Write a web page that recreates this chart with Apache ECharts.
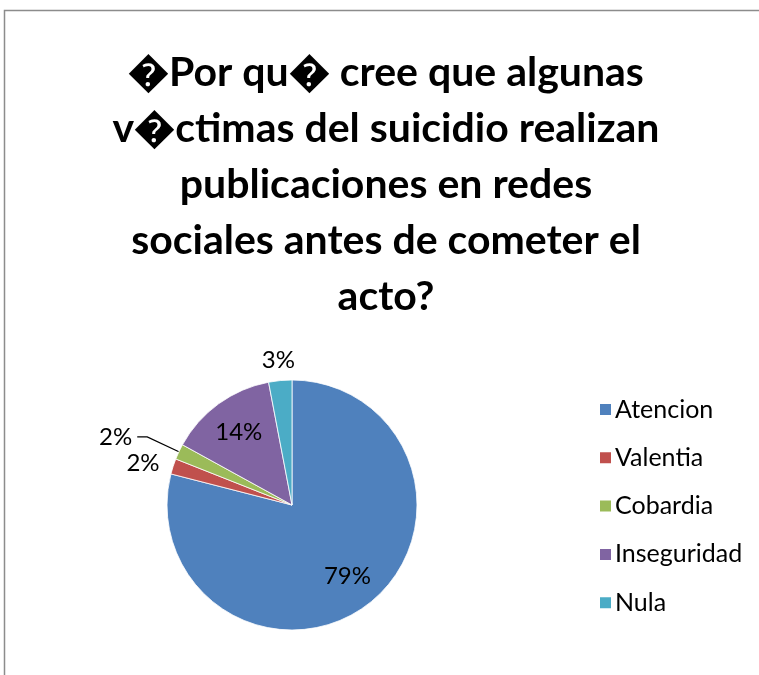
<!DOCTYPE html>
<html><head><meta charset="utf-8">
<script src="https://cdn.jsdelivr.net/npm/echarts@6/dist/echarts.min.js"></script>
<style>html,body{margin:0;padding:0;background:#fff}#c{width:759px;height:675px}</style>
</head><body><div id="c"></div>
<script>
var titleText = "\uFFFDPor qu\uFFFD cree que algunas\nv\uFFFDctimas del suicidio realizan\npublicaciones en redes\nsociales antes de cometer el\nacto?";
var categories = ["Atencion", "Valentia", "Cobardia", "Inseguridad", "Nula"];
var values = [79, 2, 2, 14, 3];
var colors = ["#4F81BD", "#C0504D", "#9BBB59", "#8064A2", "#4BACC6"];
// which ring carries each slice's label: 'in' = inside the pie, 'out' = outside with ECharts layout, 'ring' = just above the rim
var labelMode = ["in", "out", "out", "in", "ring"];
var showLine = [false, false, true, false, false];
var lineLen = [10, 9, 35, 10, 12];
var lineLen2 = [0, 0, 10, 0, 0];

var chart = echarts.init(document.getElementById('c'));
var baseData = categories.map(function (c, i) {
  return { name: c, value: values[i], itemStyle: { color: colors[i] } };
});
function labelData(mode) {
  return categories.map(function (c, i) {
    var m = labelMode[i];
    var show = (mode === 'main') ? (m === 'in' || m === 'out') : (m === 'ring');
    return {
      name: c, value: values[i],
      label: { show: show, position: (m === 'out') ? 'outside' : 'inside' },
      labelLine: { show: show && showLine[i], length: lineLen[i], length2: lineLen2[i] }
    };
  });
}
var labelStyle = {
  formatter: function (p) { return p.value + '%'; },
  fontFamily: 'Lato', fontSize: 24, color: '#000'
};
chart.setOption({
  animation: false,
  title: {
    text: titleText, left: 381, top: 40, textAlign: 'center',
    textStyle: { fontFamily: 'Lato', fontWeight: 'bold', fontSize: 41, lineHeight: 56, color: '#000' }
  },
  legend: {
    orient: 'vertical', left: 593, top: 392, itemWidth: 13, itemHeight: 13, itemGap: 23.3,
    icon: 'rect', data: categories,
    textStyle: { fontFamily: 'Lato', fontSize: 25, color: '#000', padding: [0, 0, 0, -2] }
  },
  graphic: [{ type: 'rect', shape: { x: 4.5, y: 10.5, width: 800, height: 700 }, style: { fill: 'none', stroke: '#8c8c8c', lineWidth: 1.5 }, silent: true }],
  series: [{
    type: 'pie', center: [292, 505], radius: 125, startAngle: 90, clockwise: true,
    data: baseData, silent: true,
    itemStyle: { borderColor: '#fff', borderWidth: 0.8 },
    label: { show: false }, labelLine: { show: false }
  }, {
    type: 'pie', center: [292, 505], radius: [50, 125], startAngle: 90, clockwise: true,
    data: labelData('main'), silent: true, legendHoverLink: false,
    itemStyle: { color: 'rgba(0,0,0,0)', borderWidth: 0 },
    label: labelStyle,
    labelLine: { lineStyle: { color: '#000', width: 1.2 } }
  }, {
    type: 'pie', center: [292, 505], radius: [125, 160], startAngle: 90, clockwise: true,
    data: labelData('ring'), silent: true, legendHoverLink: false,
    itemStyle: { color: 'rgba(0,0,0,0)', borderWidth: 0 },
    label: labelStyle,
    labelLine: { show: false }
  }]
});
</script></body></html>
